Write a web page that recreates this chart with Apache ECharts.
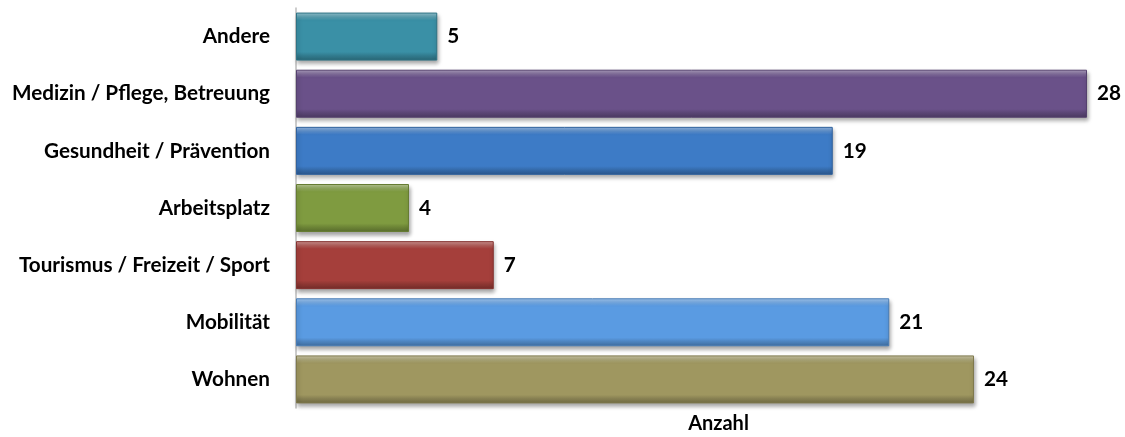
<!DOCTYPE html>
<html>
<head>
<meta charset="utf-8">
<script src="https://cdn.jsdelivr.net/npm/echarts@6/dist/echarts.min.js"></script>
<style>
  html, body { margin: 0; padding: 0; background: #fff; }
  #chart { width: 1125px; height: 437px; }
</style>
</head>
<body>
<div id="chart"></div>
<script>
// categories bottom -> top (ECharts category axis starts at the bottom)
const categories = [
  'Wohnen',
  'Mobilität',
  'Tourismus / Freizeit / Sport',
  'Arbeitsplatz',
  'Gesundheit / Prävention',
  'Medizin / Pflege, Betreuung',
  'Andere',
];
const values = [24, 21, 7, 4, 19, 28, 5];

// base colour per bar, same order
const baseColors = ['#9f9760', '#5a9be2', '#a53f3b', '#7f9b40', '#3d7bc6', '#6a5189', '#3a90a6'];

function shade(hex, amt) {
  const n = parseInt(hex.slice(1), 16);
  let r = (n >> 16) & 255, g = (n >> 8) & 255, b = n & 255;
  const f = (c) => Math.max(0, Math.min(255, Math.round(amt > 0 ? c + (255 - c) * amt : c * (1 + amt))));
  return 'rgb(' + f(r) + ',' + f(g) + ',' + f(b) + ')';
}

function bevel(hex) {
  return new echarts.graphic.LinearGradient(0, 0, 0, 1, [
    { offset: 0, color: shade(hex, 0.45) },
    { offset: 0.1, color: shade(hex, 0.15) },
    { offset: 0.16, color: hex },
    { offset: 0.82, color: hex },
    { offset: 0.9, color: shade(hex, -0.15) },
    { offset: 1, color: shade(hex, -0.3) },
  ]);
}

const textStyle = {
  fontFamily: 'Lato',
  fontWeight: 'bold',
  fontSize: 20.7,
  color: '#000',
};

const chart = echarts.init(document.getElementById('chart'));

chart.setOption({
  animation: false,
  grid: {
    left: 296,
    right: 38,
    top: 8,
    bottom: 29,
    outerBoundsMode: 'none',
  },
  xAxis: {
    type: 'value',
    min: 0,
    max: 28,
    axisLine: { show: false },
    axisTick: { show: false },
    axisLabel: { show: false },
    splitLine: { show: false },
    name: 'Anzahl',
    nameLocation: 'middle',
    nameGap: 6,
    // the original axis runs past the last bar, so its title sits right of centre
    nameTextStyle: Object.assign({}, textStyle, { fontSize: 20, padding: [0, 0, 0, 54] }),
  },
  yAxis: {
    type: 'category',
    data: categories,
    axisLine: { show: true, lineStyle: { color: '#bdbdbd', width: 1.5 } },
    axisTick: { show: false },
    axisLabel: Object.assign({ margin: 26 }, textStyle),
  },
  series: [
    {
      type: 'bar',
      barWidth: 48,
      data: values.map((v, i) => ({
        value: v,
        itemStyle: {
          color: bevel(baseColors[i]),
          borderColor: shade(baseColors[i], -0.2),
          borderWidth: 1,
          shadowColor: 'rgba(0,0,0,0.35)',
          shadowBlur: 4,
          shadowOffsetX: 1,
          shadowOffsetY: 3,
        },
      })),
      label: Object.assign({ show: true, position: 'right', distance: 10 }, textStyle),
    },
  ],
});
</script>
</body>
</html>
